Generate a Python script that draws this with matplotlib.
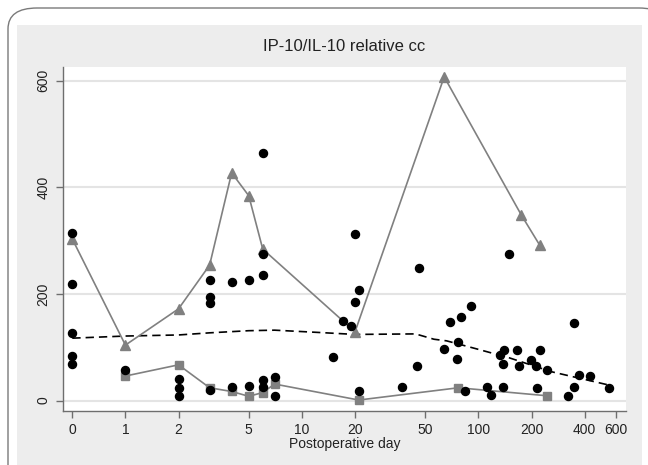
import matplotlib
matplotlib.use("Agg")
import matplotlib.pyplot as plt
from matplotlib.patches import FancyBboxPatch, Rectangle
from matplotlib.ticker import FixedLocator, NullLocator

plt.rcParams['font.family'] = ['Liberation Sans', 'DejaVu Sans']

# day 0 is drawn at 0.5 on the log axis
ZERO = 0.5

# individual measurements (black dots)
dot_day = [0, 0, 0, 0, 0, 1, 2, 2, 2, 3, 3, 3, 3, 4, 4, 5, 5,
           6, 6, 6, 6, 6, 7, 7, 15, 17, 19, 20, 20, 21, 21,
           37, 45, 46, 64, 69, 76, 77, 80, 84, 91, 112, 118, 133, 137, 138, 140, 150,
           165, 169, 199, 211, 214, 224, 244, 320, 349, 349, 373, 427, 547]
dot_val = [314, 218, 126, 84, 69, 57, 41, 23, 9, 226, 194, 183, 20, 222, 26, 226, 27,
           465, 275, 236, 38, 26, 45, 9, 81, 150, 139, 184, 312, 208, 17,
           26, 64, 248, 97, 148, 78, 109, 156, 17, 178, 26, 11, 86, 26, 68, 95, 275,
           94, 64, 76, 64, 24, 95, 58, 8, 146, 26, 48, 46, 23]

# upper series (triangles)
tri_day = [0, 1, 2, 3, 4, 5, 6, 20, 64, 175, 222]
tri_val = [303, 104, 172, 254, 427, 384, 284, 129, 607, 348, 292]

# lower series (squares)
sq_day = [1, 2, 3, 4, 5, 6, 7, 21, 77, 245]
sq_val = [46, 67, 24, 17, 8, 15, 31, 1, 24, 9]

# smoothed trend (dashed)
fit_day = [0, 1, 2, 3, 5, 7, 12, 20, 44, 56, 66, 100, 150, 260, 550]
fit_val = [117, 121, 123, 127, 131, 132, 128, 124, 125, 115, 112, 96, 80, 54, 29]

xticks = [0, 1, 2, 5, 10, 20, 50, 100, 200, 400, 600]
yticks = [0, 200, 400, 600]


def pos(days):
    return [ZERO if d == 0 else d for d in days]


fig = plt.figure(figsize=(6.48, 4.65), dpi=100)
fig.patch.set_facecolor('white')

W, H = 648.0, 465.0
# outer rounded frame and grey graph region
frame = FancyBboxPatch((8 / W, -0.1), 660 / W, (465 - 8) / H + 0.1,
                       boxstyle="round,pad=0,rounding_size=0.045",
                       transform=fig.transFigure, facecolor='white',
                       edgecolor='#7a7a7a', linewidth=1.0, zorder=-2)
fig.patches.append(frame)
region = Rectangle((16.7 / W, 0), (641.7 - 16.7) / W, (465 - 25) / H,
                   transform=fig.transFigure, facecolor='#ededed',
                   edgecolor='none', zorder=-1)
fig.patches.append(region)

ax = fig.add_axes([63 / W, 1 - 410.7 / H, (626 - 63) / W, (410.7 - 66.7) / H])
ax.set_zorder(1)
ax.set_facecolor('white')

for v in yticks:
    ax.axhline(v, color='#e4e4e4', linewidth=1.5, zorder=0)

ax.plot(pos(tri_day), tri_val, color='#808080', linewidth=1.2,
        marker='^', markersize=6.5, zorder=3)
ax.plot(pos(sq_day), sq_val, color='#808080', linewidth=1.2,
        marker='s', markersize=6, zorder=3)
ax.plot(pos(fit_day), fit_val, color='black', linewidth=1.2,
        linestyle=(0, (5, 3)), zorder=2)
ax.plot(pos(dot_day), dot_val, linestyle='none', marker='o', color='black',
        markersize=5.8, zorder=4)

ax.set_xscale('log')
ax.set_xlim(0.443, 686)
ax.set_ylim(-19, 626)
ax.xaxis.set_major_locator(FixedLocator(pos(xticks)))
ax.xaxis.set_minor_locator(NullLocator())
ax.set_xticklabels([str(t) for t in xticks])
ax.set_yticks(yticks)
ax.set_yticklabels([str(t) for t in yticks], rotation=90, va='center')

for s in ['top', 'right']:
    ax.spines[s].set_visible(False)
for s in ['left', 'bottom']:
    ax.spines[s].set_color('#6e6e6e')
    ax.spines[s].set_linewidth(1.0)
ax.tick_params(axis='both', direction='out', length=5, width=1.0,
               color='#6e6e6e', labelsize=10, labelcolor='#222222', pad=4)

ax.set_xlabel('Postoperative day', fontsize=10, color='#222222', labelpad=0)
ax.set_title('IP-10/IL-10 relative cc', fontsize=12, color='#222222', pad=11)

fig.savefig('out.png', dpi=100, facecolor=fig.get_facecolor())
